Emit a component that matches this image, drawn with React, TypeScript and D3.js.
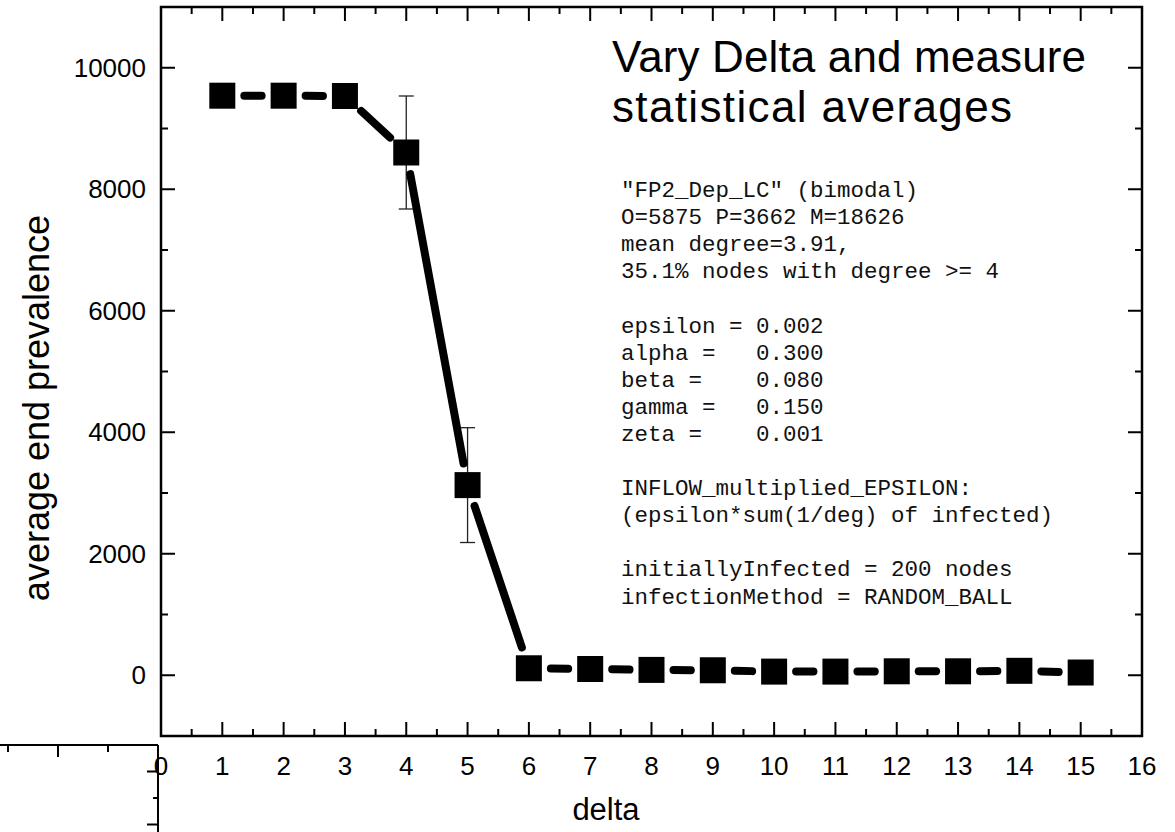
import React from "react";
import * as d3 from "d3";

const deltas = [1, 2, 3, 4, 5, 6, 7, 8, 9, 10, 11, 12, 13, 14, 15];
const prevalence = [9540, 9540, 9535, 8605, 3130, 115, 103, 88, 82, 60, 60, 65, 65, 73, 45];
const errors = [20, 20, 20, 930, 945, 40, 30, 30, 30, 25, 25, 25, 25, 30, 25];
const xTicks = d3.range(0, 17, 1);
const xMinor = d3.range(0.5, 16, 1);
const yTicks = [0, 2000, 4000, 6000, 8000, 10000];
const yMinor = [-1000, 1000, 3000, 5000, 7000, 9000, 11000];
const titleLines = ["Vary Delta and measure", "statistical averages"];
const noteLines = [
  '"FP2_Dep_LC" (bimodal)',
  "O=5875 P=3662 M=18626",
  "mean degree=3.91,",
  "35.1% nodes with degree >= 4",
  "",
  "epsilon = 0.002",
  "alpha =   0.300",
  "beta =    0.080",
  "gamma =   0.150",
  "zeta =    0.001",
  "",
  "INFLOW_multiplied_EPSILON:",
  "(epsilon*sum(1/deg) of infected)",
  "",
  "initiallyInfected = 200 nodes",
  "infectionMethod = RANDOM_BALL",
];
const xLabel = "delta";
const yLabel = "average end prevalence";

const W = 1175;
const H = 832;
const left = 161, right = 1142, top = 7, bottom = 736;
const sans = "'Liberation Sans', Arial, sans-serif";
const mono = "'Liberation Mono', 'Courier New', monospace";

export default function App() {
  const x = d3.scaleLinear().domain([0, 16]).range([left, right]);
  const y = d3.scaleLinear().domain([-1000, 11000]).range([bottom, top]);
  const pts = deltas.map((d, i) => ({ px: x(d), py: y(prevalence[i]), e: errors[i], v: prevalence[i] }));
  const gap = 22;
  const segs = pts.slice(1).map((p, i) => {
    const a = pts[i];
    const dx = p.px - a.px, dy = p.py - a.py;
    const len = Math.hypot(dx, dy);
    const ux = dx / len, uy = dy / len;
    return { x1: a.px + ux * gap, y1: a.py + uy * gap, x2: p.px - ux * gap, y2: p.py - uy * gap };
  });
  const ms = 26;
  const majorLen = 14, minorLen = 7;
  const titleWidths = [474, 400];

  // stray offset axis copy in the lower-left corner
  const strayX = d3.scaleLinear().domain([-4, 0]).range([-42, 158]);
  const strayY = d3.scaleLinear().domain([0, 2]).range([745, 851]);

  return (
    <svg width={W} height={H} style={{ position: "absolute", left: 0, top: 0, background: "#fff" }}>
      <rect x={0} y={0} width={W} height={H} fill="#fff" />
      {/* error bars */}
      {pts.map((p, i) => (
        <g key={"e" + i} stroke="#222" strokeWidth={1.3}>
          <line x1={p.px} x2={p.px} y1={y(p.v + p.e)} y2={y(p.v - p.e)} />
          <line x1={p.px - 7.5} x2={p.px + 7.5} y1={y(p.v + p.e)} y2={y(p.v + p.e)} />
          <line x1={p.px - 7.5} x2={p.px + 7.5} y1={y(p.v - p.e)} y2={y(p.v - p.e)} />
        </g>
      ))}
      {/* connecting line with gaps */}
      {segs.map((s, i) => (
        <line key={"s" + i} x1={s.x1} y1={s.y1} x2={s.x2} y2={s.y2} stroke="#000" strokeWidth={8} strokeLinecap="round" />
      ))}
      {/* markers */}
      {pts.map((p, i) => (
        <rect key={"m" + i} x={p.px - ms / 2} y={p.py - ms / 2} width={ms} height={ms} fill="#000" />
      ))}
      {/* frame */}
      <rect x={left} y={top} width={right - left} height={bottom - top} fill="none" stroke="#000" strokeWidth={2.5} />
      {/* x ticks */}
      {xTicks.map((t) => (
        <g key={"xt" + t} stroke="#000" strokeWidth={2}>
          <line x1={x(t)} x2={x(t)} y1={bottom} y2={bottom - majorLen} />
          <line x1={x(t)} x2={x(t)} y1={top} y2={top + majorLen} />
        </g>
      ))}
      {xMinor.map((t) => (
        <g key={"xm" + t} stroke="#000" strokeWidth={2}>
          <line x1={x(t)} x2={x(t)} y1={bottom} y2={bottom - minorLen} />
          <line x1={x(t)} x2={x(t)} y1={top} y2={top + minorLen} />
        </g>
      ))}
      {xTicks.map((t) => (
        <text key={"xl" + t} x={x(t)} y={775} textAnchor="middle" fontFamily={sans} fontSize={26} fill="#000">
          {t}
        </text>
      ))}
      {/* y ticks */}
      {yTicks.map((t) => (
        <g key={"yt" + t} stroke="#000" strokeWidth={2}>
          <line x1={left} x2={left + majorLen} y1={y(t)} y2={y(t)} />
          <line x1={right} x2={right - majorLen} y1={y(t)} y2={y(t)} />
        </g>
      ))}
      {yMinor.map((t) => (
        <g key={"ym" + t} stroke="#000" strokeWidth={2}>
          <line x1={left} x2={left + minorLen} y1={y(t)} y2={y(t)} />
          <line x1={right} x2={right - minorLen} y1={y(t)} y2={y(t)} />
        </g>
      ))}
      {yTicks.map((t) => (
        <text key={"yl" + t} x={146} y={y(t) + 9} textAnchor="end" fontFamily={sans} fontSize={26} fill="#000">
          {t}
        </text>
      ))}
      {/* axis titles */}
      <text x={606} y={820} textAnchor="middle" fontFamily={sans} fontSize={31} fill="#000">
        {xLabel}
      </text>
      <text transform={`translate(49,408) rotate(-90)`} textAnchor="middle" fontFamily={sans} fontSize={36} fill="#000">
        {yLabel}
      </text>
      {/* title */}
      {titleLines.map((l, i) => (
        <text key={"t" + i} x={612} y={72 + i * 50} fontFamily={sans} fontSize={44} fill="#000"
          textLength={titleWidths[i]} lengthAdjust="spacing">
          {l}
        </text>
      ))}
      {/* notes */}
      {noteLines.map((l, i) => (
        <text key={"n" + i} x={621} y={197 + i * 27.1} fontFamily={mono} fontSize={22.5} fill="#111" style={{ whiteSpace: "pre" }}>
          {l}
        </text>
      ))}
      {/* stray axis copy */}
      <g stroke="#000" strokeWidth={2}>
        <line x1={0} x2={strayX(0)} y1={strayY(0)} y2={strayY(0)} />
        {[-3, -2, -1, 0].map((t) => (
          <line key={"sx" + t} x1={strayX(t)} x2={strayX(t)} y1={strayY(0)} y2={strayY(0) + (t % 2 === 0 ? 12 : 7)} />
        ))}
        <line x1={strayX(0)} x2={strayX(0)} y1={strayY(0)} y2={H} />
        {[0.5, 1, 1.5].map((t) => (
          <line key={"sy" + t} x1={strayX(0)} x2={strayX(0) - (t === 1 ? 5 : 11)} y1={strayY(t)} y2={strayY(t)} />
        ))}
      </g>
    </svg>
  );
}
